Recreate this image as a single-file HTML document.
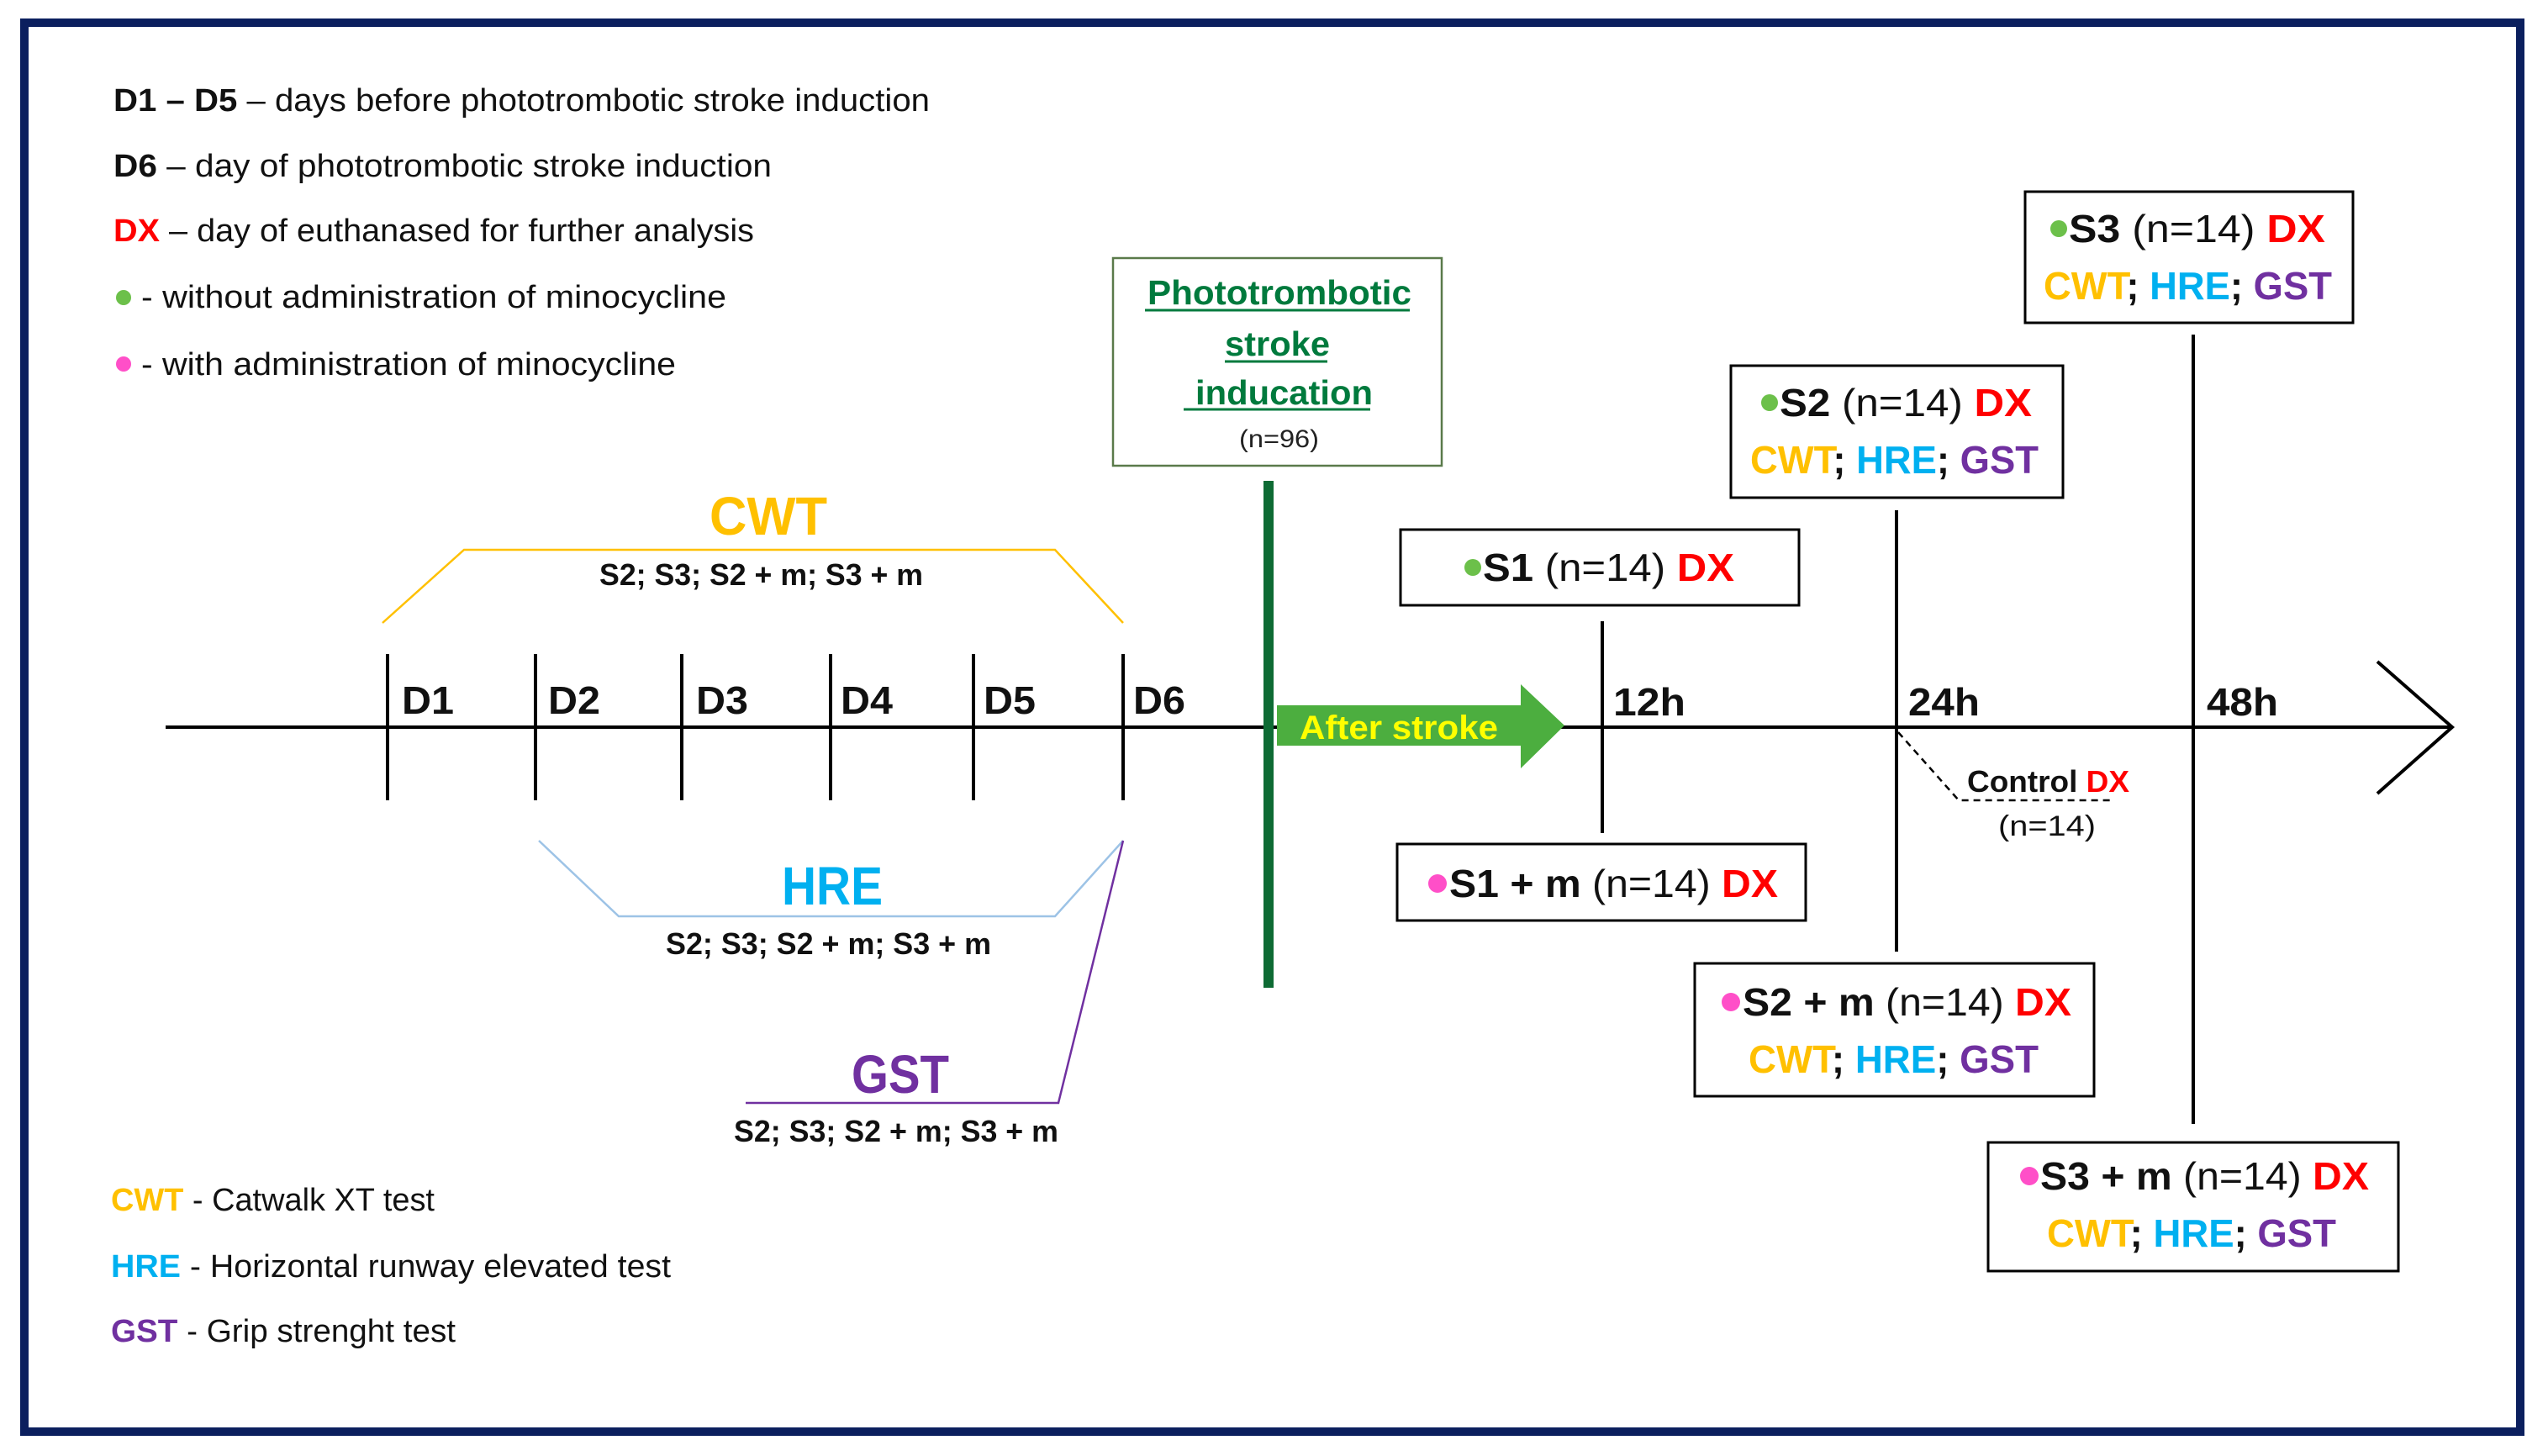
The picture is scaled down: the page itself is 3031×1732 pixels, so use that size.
<!DOCTYPE html>
<html><head><meta charset="utf-8"><style>html,body{margin:0;padding:0;background:#fff}svg{display:block}</style></head>
<body>
<svg xmlns="http://www.w3.org/2000/svg" width="3031" height="1732" viewBox="0 0 3031 1732" font-family="Liberation Sans, sans-serif">
<rect x="0" y="0" width="3031" height="1732" fill="#fff"/>
<rect x="29" y="27" width="2969" height="1676" fill="none" stroke="#0b1f5e" stroke-width="10"/>
<g transform="translate(-4,-1)">
<!-- top legend -->
<g font-size="38" fill="#111">
<text x="139" y="133" textLength="971" lengthAdjust="spacingAndGlyphs"><tspan font-weight="bold">D1 – D5</tspan> – days before phototrombotic stroke induction</text>
<text x="139" y="211" textLength="783" lengthAdjust="spacingAndGlyphs"><tspan font-weight="bold">D6</tspan> – day of phototrombotic stroke induction</text>
<text x="139" y="288" textLength="762" lengthAdjust="spacingAndGlyphs"><tspan fill="#ff0000" font-weight="bold">DX</tspan> – day of euthanased for further analysis</text>
<text x="172" y="367" textLength="696" lengthAdjust="spacingAndGlyphs">- without administration of minocycline</text>
<text x="172" y="447" textLength="636" lengthAdjust="spacingAndGlyphs">- with administration of minocycline</text>
</g>
<circle cx="151" cy="355" r="9" fill="#6cc04a"/>
<circle cx="151" cy="434" r="9" fill="#ff4fc8"/>

<!-- bottom legend -->
<g font-size="38" fill="#111">
<text x="136" y="1441" textLength="385" lengthAdjust="spacingAndGlyphs"><tspan fill="#ffc000" font-weight="bold">CWT</tspan> - Catwalk XT test</text>
<text x="136" y="1520" textLength="666" lengthAdjust="spacingAndGlyphs"><tspan fill="#00b0f0" font-weight="bold">HRE</tspan> - Horizontal runway elevated test</text>
<text x="136" y="1597" textLength="410" lengthAdjust="spacingAndGlyphs"><tspan fill="#7030a0" font-weight="bold">GST</tspan> - Grip strenght test</text>
</g>

<!-- main axis -->
<line x1="201" y1="866" x2="2921" y2="866" stroke="#000" stroke-width="4"/>
<polyline points="2832,788 2921,866 2832,945" fill="none" stroke="#000" stroke-width="4"/>

<!-- day ticks -->
<g stroke="#000" stroke-width="4">
<line x1="465" y1="779" x2="465" y2="953"/>
<line x1="641" y1="779" x2="641" y2="953"/>
<line x1="815" y1="779" x2="815" y2="953"/>
<line x1="992" y1="779" x2="992" y2="953"/>
<line x1="1162" y1="779" x2="1162" y2="953"/>
<line x1="1340" y1="779" x2="1340" y2="953"/>
<line x1="1910" y1="740" x2="1910" y2="992"/>
<line x1="2260" y1="608" x2="2260" y2="1133"/>
<line x1="2613" y1="399" x2="2613" y2="1338"/>
</g>
<g font-size="46" font-weight="bold" fill="#111">
<text x="482" y="850" textLength="62" lengthAdjust="spacingAndGlyphs">D1</text>
<text x="656" y="850" textLength="62" lengthAdjust="spacingAndGlyphs">D2</text>
<text x="832" y="850" textLength="62" lengthAdjust="spacingAndGlyphs">D3</text>
<text x="1004" y="850" textLength="62" lengthAdjust="spacingAndGlyphs">D4</text>
<text x="1174" y="850" textLength="62" lengthAdjust="spacingAndGlyphs">D5</text>
<text x="1352" y="850" textLength="62" lengthAdjust="spacingAndGlyphs">D6</text>
<text x="1923" y="852" textLength="86" lengthAdjust="spacingAndGlyphs">12h</text>
<text x="2274" y="852" textLength="85" lengthAdjust="spacingAndGlyphs">24h</text>
<text x="2629" y="852" textLength="85" lengthAdjust="spacingAndGlyphs">48h</text>
</g>

<!-- CWT -->
<polyline points="459,742 556,655 1259,655 1340,742" fill="none" stroke="#ffc000" stroke-width="2.5"/>
<text x="848" y="637" font-size="64" font-weight="bold" fill="#ffc000" textLength="140" lengthAdjust="spacingAndGlyphs">CWT</text>
<text x="717" y="697" font-size="36" font-weight="bold" fill="#111" textLength="385" lengthAdjust="spacingAndGlyphs">S2; S3; S2 + m; S3 + m</text>
<!-- HRE -->
<polyline points="645,1001 740,1091 1259,1091 1340,1001" fill="none" stroke="#9dc3e6" stroke-width="2.5"/>
<text x="934" y="1077" font-size="64" font-weight="bold" fill="#00b0f0" textLength="120" lengthAdjust="spacingAndGlyphs">HRE</text>
<text x="796" y="1136" font-size="36" font-weight="bold" fill="#111" textLength="387" lengthAdjust="spacingAndGlyphs">S2; S3; S2 + m; S3 + m</text>
<!-- GST -->
<polyline points="891,1313 1263,1313 1340,1001" fill="none" stroke="#7030a0" stroke-width="2.5"/>
<text x="1017" y="1301" font-size="64" font-weight="bold" fill="#7030a0" textLength="116" lengthAdjust="spacingAndGlyphs">GST</text>
<text x="877" y="1359" font-size="36" font-weight="bold" fill="#111" textLength="386" lengthAdjust="spacingAndGlyphs">S2; S3; S2 + m; S3 + m</text>

<!-- stroke box -->
<rect x="1328" y="308" width="391" height="247" fill="#fff" stroke="#5a7a4a" stroke-width="2.5"/>
<g font-size="41" font-weight="bold" fill="#007a3d">
<text x="1369" y="363" textLength="314" lengthAdjust="spacingAndGlyphs">Phototrombotic</text>
<text x="1461" y="424" textLength="125" lengthAdjust="spacingAndGlyphs">stroke</text>
<text x="1426" y="482" textLength="211" lengthAdjust="spacingAndGlyphs">inducation</text>
</g>
<g stroke="#007a3d" stroke-width="3">
<line x1="1366" y1="370" x2="1681" y2="370"/>
<line x1="1461" y1="431" x2="1583" y2="431"/>
<line x1="1412" y1="488" x2="1634" y2="488"/>
</g>
<text x="1478" y="533" font-size="30" fill="#222" textLength="95" lengthAdjust="spacingAndGlyphs">(n=96)</text>

<!-- green bar -->
<rect x="1507" y="573" width="12" height="603" fill="#0e6b34"/>

<!-- after stroke arrow -->
<polygon points="1523,840 1813,840 1813,815 1865,864 1813,915 1813,888 1523,888" fill="#4cae3f"/>
<text x="1550" y="880" font-size="40" font-weight="bold" fill="#ffff00" textLength="236" lengthAdjust="spacingAndGlyphs">After stroke</text>

<!-- control -->
<polyline points="2262,872 2334,953 2518,953" fill="none" stroke="#000" stroke-width="2.5" stroke-dasharray="8,6"/>
<text x="2344" y="943" font-size="36" font-weight="bold" fill="#111" textLength="193" lengthAdjust="spacingAndGlyphs">Control <tspan fill="#ff0000">DX</tspan></text>
<text x="2381" y="995" font-size="34" fill="#111" textLength="116" lengthAdjust="spacingAndGlyphs">(n=14)</text>

<!-- group boxes -->
<g fill="#fff" stroke="#000" stroke-width="3">
<rect x="1670" y="631" width="474" height="90"/>
<rect x="2063" y="436" width="395" height="157"/>
<rect x="2413" y="229" width="390" height="156"/>
<rect x="1666" y="1005" width="486" height="91"/>
<rect x="2020" y="1147" width="475" height="158"/>
<rect x="2369" y="1360" width="488" height="153"/>
</g>
<g font-size="46" fill="#111">
<text x="1768" y="692" textLength="299" lengthAdjust="spacingAndGlyphs"><tspan font-weight="bold">S1</tspan> (n=14) <tspan fill="#ff0000" font-weight="bold">DX</tspan></text>
<text x="2121" y="496" textLength="300" lengthAdjust="spacingAndGlyphs"><tspan font-weight="bold">S2</tspan> (n=14) <tspan fill="#ff0000" font-weight="bold">DX</tspan></text>
<text x="2086" y="564" font-weight="bold" textLength="343" lengthAdjust="spacingAndGlyphs"><tspan fill="#ffc000">CWT</tspan>; <tspan fill="#00b0f0">HRE</tspan>; <tspan fill="#7030a0">GST</tspan></text>
<text x="2465" y="289" textLength="305" lengthAdjust="spacingAndGlyphs"><tspan font-weight="bold">S3</tspan> (n=14) <tspan fill="#ff0000" font-weight="bold">DX</tspan></text>
<text x="2435" y="357" font-weight="bold" textLength="343" lengthAdjust="spacingAndGlyphs"><tspan fill="#ffc000">CWT</tspan>; <tspan fill="#00b0f0">HRE</tspan>; <tspan fill="#7030a0">GST</tspan></text>
<text x="1728" y="1068" textLength="391" lengthAdjust="spacingAndGlyphs"><tspan font-weight="bold">S1 + m</tspan> (n=14) <tspan fill="#ff0000" font-weight="bold">DX</tspan></text>
<text x="2077" y="1209" textLength="391" lengthAdjust="spacingAndGlyphs"><tspan font-weight="bold">S2 + m</tspan> (n=14) <tspan fill="#ff0000" font-weight="bold">DX</tspan></text>
<text x="2084" y="1277" font-weight="bold" textLength="345" lengthAdjust="spacingAndGlyphs"><tspan fill="#ffc000">CWT</tspan>; <tspan fill="#00b0f0">HRE</tspan>; <tspan fill="#7030a0">GST</tspan></text>
<text x="2431" y="1416" textLength="391" lengthAdjust="spacingAndGlyphs"><tspan font-weight="bold">S3 + m</tspan> (n=14) <tspan fill="#ff0000" font-weight="bold">DX</tspan></text>
<text x="2439" y="1484" font-weight="bold" textLength="344" lengthAdjust="spacingAndGlyphs"><tspan fill="#ffc000">CWT</tspan>; <tspan fill="#00b0f0">HRE</tspan>; <tspan fill="#7030a0">GST</tspan></text>
</g>
<g fill="#6cc04a">
<circle cx="1756" cy="676" r="10"/>
<circle cx="2109" cy="480" r="10"/>
<circle cx="2453" cy="273" r="10"/>
</g>
<g fill="#ff4fc8">
<circle cx="1714" cy="1052" r="11"/>
<circle cx="2063" cy="1193" r="11"/>
<circle cx="2418" cy="1400" r="11"/>
</g>
</g>
</svg>
</body></html>
